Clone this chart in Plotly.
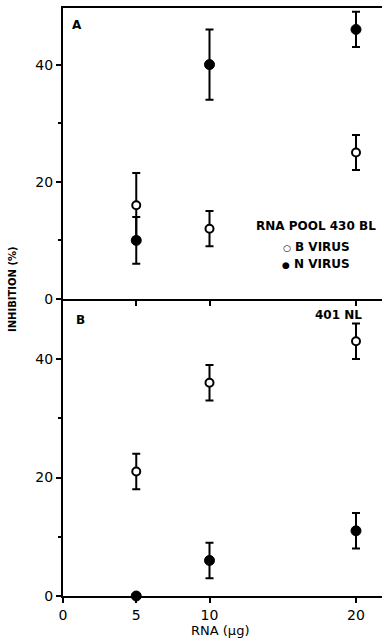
import plotly.graph_objects as go
from plotly.subplots import make_subplots

# ---- data ----
rna_ug = [5, 10, 20]
x_tick_vals = [0, 5, 10, 20]
x_tick_text = ["0", "5", "10", "20"]
y_tick_vals = [0, 20, 40]
y_tick_text = ["0", "20", "40"]
y_minor_vals = [10, 30]

# Panel A: RNA pool 430 BL
a_b_virus = [16, 12, 25]
a_b_err = [5.5, 3, 3]
a_n_virus = [10, 40, 46]
a_n_err = [4, 6, 3]

# Panel B: 401 NL
b_b_virus = [21, 36, 43]
b_b_err = [3, 3, 3]
b_n_virus = [0, 6, 11]
b_n_err = [0, 3, 3]

W, H = 382, 642
L, R, T, B = 63, 0, 8, 46
plot_h = H - T - B
split = (596 - 299) / plot_h

fig = make_subplots(rows=2, cols=1, shared_xaxes=False, vertical_spacing=0)

FONT = "DejaVu Sans"


def add_series(row, y, err, filled, name, showlegend):
    fig.add_trace(
        go.Scatter(
            x=rna_ug, y=y, mode="markers", name=name, showlegend=showlegend,
            marker=dict(symbol="circle", size=10 if filled else 8,
                        color="black" if filled else "white",
                        line=dict(color="black", width=2 if not filled else 1)),
            error_y=dict(type="data", array=err, visible=True,
                         color="black", thickness=2, width=4),
            cliponaxis=False,
        ),
        row=row, col=1,
    )


add_series(1, a_n_virus, a_n_err, True, "N VIRUS", False)
add_series(1, a_b_virus, a_b_err, False, "B VIRUS", False)
add_series(2, b_n_virus, b_n_err, True, "N VIRUS", False)
add_series(2, b_b_virus, b_b_err, False, "B VIRUS", False)

xrange = [0, (W - L) / ((356 - 63) / 20)]

common_x = dict(range=xrange, showgrid=False, zeroline=False, showline=True,
                linecolor="black", linewidth=2, ticks="outside", ticklen=5,
                tickwidth=2, tickcolor="black",
                tickfont=dict(family=FONT, size=14, color="black"))
fig.update_xaxes(**common_x)
fig.update_xaxes(row=1, col=1, mirror=True, tickvals=[5, 10, 20],
                 showticklabels=False)
fig.update_xaxes(row=2, col=1, tickvals=x_tick_vals, ticktext=x_tick_text)

common_y = dict(showgrid=False, zeroline=False, showline=True,
                linecolor="black", linewidth=2, ticks="outside", ticklen=5,
                tickwidth=2, tickcolor="black", tickvals=y_tick_vals,
                ticktext=y_tick_text,
                tickfont=dict(family=FONT, size=14, color="black"),
                minor=dict(tickvals=y_minor_vals, ticks="outside", ticklen=3,
                           tickwidth=2, tickcolor="black"))
fig.update_yaxes(**common_y)
fig.update_yaxes(row=1, col=1, range=[0, (299 - 8) / 5.86],
                 domain=[split, 1])
fig.update_yaxes(row=2, col=1, range=[0, (596 - 299) / 5.925],
                 domain=[0, split])


def px_x(px):
    return (px - L) / (W - L - R)


def px_y(py):
    return (H - B - py) / plot_h


bold = dict(family=FONT, size=12, color="black")
small = "<span style='font-size:9px'>"
ann = [
    dict(text="<b>A</b>", x=px_x(77), y=px_y(25)),
    dict(text="<b>B</b>", x=px_x(80), y=px_y(320)),
    dict(text="<b>401 NL</b>", x=px_x(338), y=px_y(315)),
    dict(text="<b>RNA POOL 430 BL</b>", x=px_x(316), y=px_y(226)),
    dict(text=small + "\u25CB</span><b> B VIRUS</b>", x=px_x(316), y=px_y(247)),
    dict(text=small + "\u25CF</span><b> N VIRUS</b>", x=px_x(316), y=px_y(264)),
    dict(text="RNA (\u00B5g)", x=px_x(220), y=px_y(630),
         font=dict(family=FONT, size=13, color="black")),
    dict(text="<b>INHIBITION (%)</b>", x=px_x(12), y=px_y(289),
         textangle=-90, font=dict(family=FONT, size=10, color="black")),
]
for a in ann:
    a.setdefault("font", bold)
    fig.add_annotation(xref="paper", yref="paper", showarrow=False,
                       xanchor="center", yanchor="middle", **a)

fig.update_layout(
    width=W, height=H,
    margin=dict(l=L, r=R, t=T, b=B, pad=0),
    paper_bgcolor="white", plot_bgcolor="white",
    showlegend=False,
)

fig.write_html("out.html", config={"displayModeBar": False})
